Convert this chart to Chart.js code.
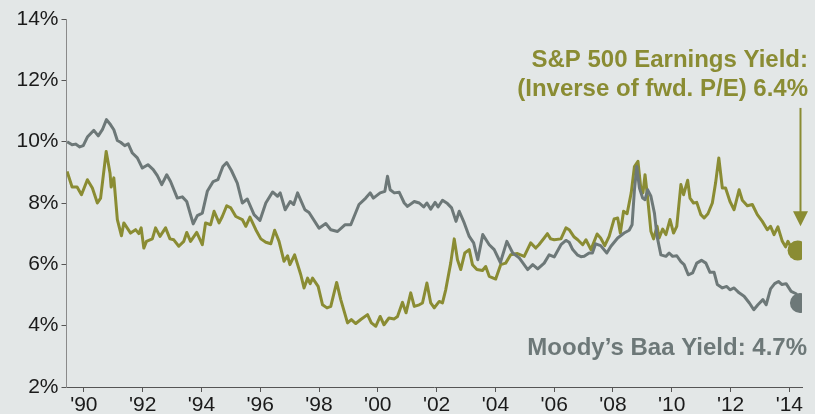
<!DOCTYPE html>
<html>
<head>
<meta charset="utf-8">
<script src="https://cdn.jsdelivr.net/npm/chart.js@4"></script>
<style>
  html, body { margin: 0; padding: 0; background: #e3e7e7; }
  #wrap { width: 815px; height: 414px; }
</style>
</head>
<body>
<div id="wrap"><canvas id="c" width="815" height="414"></canvas></div>
<script>
// ---- data (decimal years and percent values) ----
const baaYears = [1989.43,1989.60,1989.72,1989.86,1989.98,1990.12,1990.34,1990.49,1990.63,1990.77,1990.91,1991.02,1991.14,1991.25,1991.39,1991.51,1991.65,1991.82,1991.99,1992.18,1992.36,1992.50,1992.65,1992.82,1992.95,1993.18,1993.35,1993.50,1993.72,1993.86,1994.03,1994.20,1994.40,1994.56,1994.73,1994.86,1995.02,1995.22,1995.39,1995.56,1995.79,1995.99,1996.19,1996.42,1996.59,1996.68,1996.85,1997.02,1997.14,1997.27,1997.52,1997.66,1998.00,1998.23,1998.40,1998.63,1998.88,1999.08,1999.36,1999.59,1999.74,1999.85,2000.08,2000.24,2000.33,2000.42,2000.56,2000.73,2000.90,2001.01,2001.24,2001.41,2001.56,2001.67,2001.80,2001.95,2002.05,2002.20,2002.37,2002.51,2002.66,2002.77,2002.94,2003.11,2003.26,2003.40,2003.57,2003.79,2003.96,2004.17,2004.39,2004.59,2004.81,2005.10,2005.27,2005.44,2005.66,2005.83,2006.00,2006.23,2006.40,2006.51,2006.63,2006.80,2006.91,2007.02,2007.19,2007.30,2007.41,2007.58,2007.79,2007.93,2008.16,2008.38,2008.55,2008.65,2008.73,2008.81,2008.90,2009.01,2009.09,2009.18,2009.29,2009.41,2009.50,2009.63,2009.80,2009.91,2010.03,2010.17,2010.31,2010.42,2010.56,2010.71,2010.85,2011.01,2011.16,2011.30,2011.44,2011.55,2011.72,2011.87,2011.98,2012.12,2012.29,2012.46,2012.64,2012.79,2012.93,2013.10,2013.21,2013.36,2013.50,2013.63,2013.75,2013.89,2014.06,2014.23,2014.30];
const baaValues = [10.00,9.90,9.92,9.83,9.87,10.15,10.37,10.19,10.39,10.72,10.55,10.39,10.04,9.98,9.87,9.93,9.63,9.47,9.14,9.25,9.09,8.89,8.60,8.92,8.70,8.16,8.20,8.05,7.32,7.59,7.67,8.38,8.70,8.76,9.19,9.32,9.06,8.65,8.00,8.13,7.62,7.43,8.00,8.36,8.22,8.33,7.78,8.05,7.95,8.33,7.78,7.69,7.18,7.33,7.13,7.07,7.29,7.29,7.95,8.16,8.33,8.16,8.33,8.38,8.87,8.43,8.33,8.35,8.00,7.89,8.05,8.00,7.87,8.00,7.80,8.02,7.87,8.09,7.98,7.84,7.40,7.73,7.35,6.91,6.70,6.15,6.97,6.64,6.48,6.06,6.75,6.37,6.21,5.83,5.99,5.85,6.04,6.31,6.24,6.64,6.78,6.72,6.48,6.30,6.25,6.26,6.37,6.37,6.67,6.61,6.37,6.59,6.86,7.02,7.11,7.29,8.43,9.19,8.49,8.16,8.11,8.43,8.22,7.67,6.91,6.31,6.26,6.37,6.26,6.28,6.09,5.99,5.66,5.72,6.04,6.13,6.04,5.74,5.74,5.34,5.23,5.28,5.17,5.23,5.07,4.96,4.74,4.52,4.68,4.85,4.68,5.20,5.37,5.44,5.34,5.37,5.12,5.04,4.90];

const eyYears = [1989.43,1989.60,1989.77,1989.92,1990.12,1990.29,1990.46,1990.57,1990.76,1990.89,1990.93,1991.02,1991.14,1991.28,1991.36,1991.59,1991.76,1991.87,1991.95,1992.04,1992.13,1992.33,1992.44,1992.59,1992.78,1992.93,1993.06,1993.23,1993.40,1993.50,1993.63,1993.84,1994.03,1994.14,1994.31,1994.43,1994.60,1994.71,1994.86,1995.00,1995.17,1995.39,1995.51,1995.65,1995.85,1996.02,1996.19,1996.36,1996.49,1996.64,1996.81,1996.93,1997.01,1997.17,1997.38,1997.49,1997.61,1997.70,1997.78,1997.97,1998.12,1998.27,1998.40,1998.60,1998.74,1998.97,1999.10,1999.25,1999.42,1999.65,1999.78,1999.93,2000.08,2000.21,2000.38,2000.56,2000.67,2000.84,2000.96,2001.12,2001.24,2001.41,2001.52,2001.67,2001.80,2001.92,2002.09,2002.20,2002.31,2002.48,2002.60,2002.71,2002.82,2002.96,2003.11,2003.22,2003.37,2003.56,2003.67,2003.79,2004.01,2004.18,2004.35,2004.52,2004.75,2004.98,2005.20,2005.37,2005.48,2005.66,2005.77,2005.88,2006.00,2006.23,2006.40,2006.51,2006.68,2006.80,2006.97,2007.08,2007.25,2007.46,2007.58,2007.72,2007.87,2008.04,2008.16,2008.25,2008.36,2008.48,2008.62,2008.73,2008.85,2008.94,2009.02,2009.09,2009.18,2009.29,2009.38,2009.50,2009.57,2009.69,2009.80,2009.94,2010.06,2010.17,2010.31,2010.40,2010.54,2010.62,2010.74,2010.85,2010.99,2011.10,2011.23,2011.38,2011.49,2011.60,2011.72,2011.83,2011.98,2012.12,2012.29,2012.40,2012.57,2012.74,2012.91,2013.08,2013.25,2013.36,2013.48,2013.61,2013.76,2013.87,2013.95,2014.04,2014.20];
const eyValues = [9.03,8.52,8.52,8.27,8.76,8.49,8.00,8.16,9.68,8.98,8.52,8.82,7.46,6.93,7.35,7.02,7.13,7.00,7.19,6.53,6.75,6.83,7.19,6.91,7.19,6.83,6.80,6.59,6.75,7.04,6.75,7.04,6.64,7.35,7.29,7.73,7.35,7.56,7.91,7.84,7.56,7.46,7.24,7.54,7.13,6.83,6.72,6.67,7.11,6.75,6.10,6.28,5.99,6.31,5.66,5.23,5.55,5.37,5.55,5.28,4.68,4.58,4.63,5.41,4.85,4.09,4.20,4.07,4.20,4.36,4.09,3.98,4.30,4.03,4.25,4.22,4.30,4.76,4.42,5.07,4.63,4.68,4.74,5.39,4.74,4.58,4.79,4.74,5.17,6.04,6.83,6.15,5.83,6.37,6.48,5.99,5.83,5.80,5.93,5.61,5.52,5.99,6.04,6.31,6.35,6.26,6.70,6.53,6.64,6.86,7.00,6.83,6.80,6.83,7.19,7.13,6.89,6.80,6.64,6.80,6.48,6.99,6.86,6.61,6.91,7.48,7.51,7.02,7.73,7.65,8.33,9.19,9.36,8.54,8.33,8.92,8.16,7.08,6.83,7.24,6.86,7.15,6.97,7.46,7.02,7.24,8.60,8.27,8.74,8.16,8.00,8.02,7.62,7.51,7.65,8.00,8.65,9.47,8.49,8.49,8.05,7.78,8.43,8.09,7.91,7.95,7.62,7.40,7.13,7.24,6.97,7.22,6.75,6.57,6.75,6.59,6.50];

const eyLatest  = { year: 2014.28, value: 6.45 };
const baaLatest = { year: 2014.36, value: 4.74 };

const xTickYears = [1990,1992,1994,1996,1998,2000,2002,2004,2006,2008,2010,2012,2014];
const yTickValues = [2,4,6,8,10,12,14];

const eyLabelLines = ['S&P 500 Earnings Yield:', '(Inverse of fwd. P/E) 6.4%'];
const baaLabel = 'Moody\u2019s Baa Yield: 4.7%';

// ---- styles ----
const GREEN = '#8a8c33';
const GRAY  = '#6d7878';
const BG    = '#e3e7e7';

const toPoints = (xs, ys) => xs.map((x, i) => ({ x: x, y: ys[i] }));

const bgPlugin = {
  id: 'bg',
  beforeDraw(chart) {
    const ctx = chart.ctx;
    ctx.save();
    ctx.fillStyle = BG;
    ctx.fillRect(0, 0, chart.width, chart.height);
    ctx.restore();
  }
};

const annoPlugin = {
  id: 'anno',
  afterDraw(chart) {
    const ctx = chart.ctx;
    const xs = chart.scales.x, ys = chart.scales.y;
    ctx.save();
    ctx.font = "bold 24px 'Liberation Sans', Arial, sans-serif";
    ctx.textAlign = 'right';
    ctx.textBaseline = 'alphabetic';
    ctx.fillStyle = GREEN;
    ctx.fillText(eyLabelLines[0], 808, 66.5);
    ctx.fillText(eyLabelLines[1], 808, 96);
    ctx.fillStyle = GRAY;
    ctx.fillText(baaLabel, 807, 354.5);

    // arrow pointing at the latest earnings-yield dot
    const ax = Math.round(xs.getPixelForValue(eyLatest.year) + 2) + 0.5;
    const yTop = ys.getPixelForValue(11.1);
    const yTip = ys.getPixelForValue(7.24);
    ctx.strokeStyle = GREEN;
    ctx.lineWidth = 2;
    ctx.beginPath();
    ctx.moveTo(ax, yTop);
    ctx.lineTo(ax, yTip - 12);
    ctx.stroke();
    ctx.fillStyle = GREEN;
    ctx.beginPath();
    ctx.moveTo(ax - 7.5, yTip - 15);
    ctx.lineTo(ax + 7.5, yTip - 15);
    ctx.lineTo(ax, yTip);
    ctx.closePath();
    ctx.fill();
    ctx.restore();
  }
};

const tickFont = { family: "'Liberation Sans', Arial, sans-serif", size: 21 };

new Chart(document.getElementById('c'), {
  type: 'line',
  data: {
    datasets: [
      { label: 'Baa latest', data: [{ x: baaLatest.year, y: baaLatest.value }], showLine: false,
        pointRadius: 10, pointHoverRadius: 10, pointBackgroundColor: GRAY, pointBorderWidth: 0, borderColor: GRAY },
      { label: 'EY latest', data: [{ x: eyLatest.year, y: eyLatest.value }], showLine: false,
        pointRadius: 10, pointHoverRadius: 10, pointBackgroundColor: GREEN, pointBorderWidth: 0, borderColor: GREEN },
      { label: "Moody's Baa Yield", data: toPoints(baaYears, baaValues), borderColor: GRAY,
        borderWidth: 3, pointRadius: 0, tension: 0, fill: false, borderJoinStyle: 'round' },
      { label: 'S&P 500 Earnings Yield', data: toPoints(eyYears, eyValues), borderColor: GREEN,
        borderWidth: 3, pointRadius: 0, tension: 0, fill: false, borderJoinStyle: 'round' }
    ]
  },
  options: {
    responsive: false,
    animation: false,
    events: [],
    layout: { padding: { top: 19, right: 13, left: 0, bottom: 0 } },
    plugins: { legend: { display: false }, tooltip: { enabled: false } },
    scales: {
      x: {
        type: 'linear',
        min: 1989.41,
        max: 2014.43,
        afterBuildTicks(scale) { scale.ticks = xTickYears.map(v => ({ value: v })); },
        afterFit(scale) { scale.height = 27; },
        grid: { display: true, drawOnChartArea: false, drawTicks: true, tickLength: 5, color: '#555', lineWidth: 1 },
        border: { display: true, color: '#555', width: 1 },
        ticks: {
          autoSkip: false, maxRotation: 0, padding: 1, color: '#1a1a1a', font: tickFont,
          callback: v => "'" + String(v % 100).padStart(2, '0')
        }
      },
      y: {
        type: 'linear',
        min: 2,
        max: 14,
        afterBuildTicks(scale) { scale.ticks = yTickValues.map(v => ({ value: v })); },
        afterFit(scale) { scale.width = 66.5; },
        grid: { display: true, drawOnChartArea: false, drawTicks: true, tickLength: 5, color: '#555', lineWidth: 1 },
        border: { display: true, color: '#8a8a8a', width: 1 },
        ticks: { padding: 3, color: '#1a1a1a', font: tickFont, callback: v => v + '%' }
      }
    }
  },
  plugins: [bgPlugin, annoPlugin]
});
</script>
</body>
</html>
